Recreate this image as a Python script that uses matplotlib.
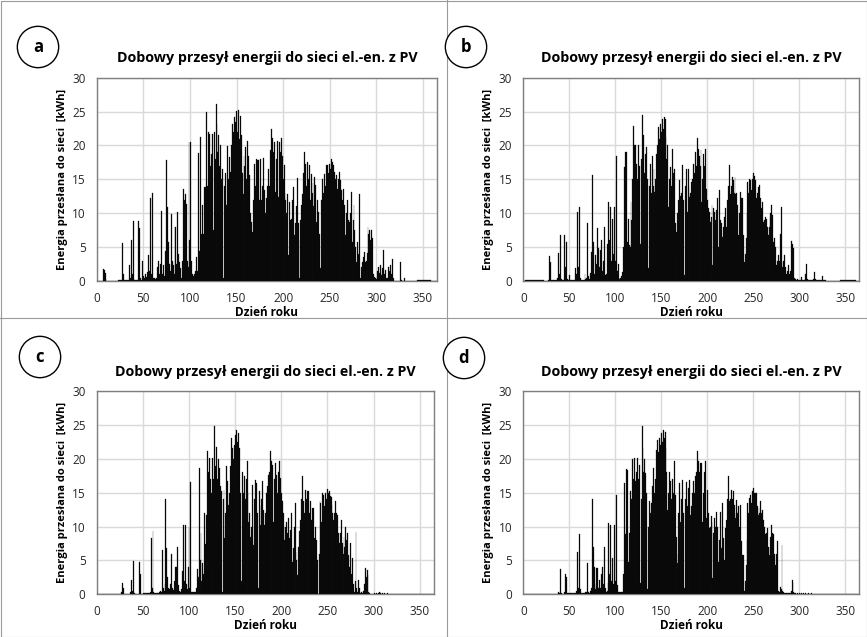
import numpy as np
import matplotlib
matplotlib.use("Agg")
import matplotlib.pyplot as plt
from matplotlib.lines import Line2D

plt.rcParams['font.family'] = ['Open Sans', 'DejaVu Sans']

# daily energy sent to grid [kWh], day 1..365
energy_a = [
    0, 0, 0, 0, 0, 0, 1.8, 1.6, 1.2, 0.3,
    0, 0, 0, 0, 0, 0, 0, 0, 0, 0,
    0, 0, 0.1, 0.1, 0.1, 0.1, 0.1, 5.6, 1.0, 0.1,
    0.1, 0.1, 0.1, 0.1, 2.4, 0.5, 6.1, 1.0, 8.9, 0.3,
    0.1, 0.1, 0.1, 0.1, 8.9, 7.8, 0.5, 0.2, 2.9, 0.8,
    0.5, 1.0, 0.6, 1.3, 0.4, 3.9, 1.5, 12.2, 1.0, 13.0,
    0.5, 0.5, 0.3, 0.4, 2.0, 2.9, 1.0, 2.5, 1.2, 10.4,
    1.0, 2.4, 0.8, 4.5, 17.8, 10.9, 5.8, 2.5, 1.5, 9.9,
    3.0, 2.4, 1.0, 8.0, 8.0, 2.5, 10.2, 4.0, 2.8, 1.9,
    0.5, 3.0, 13.6, 12.0, 12.9, 11.4, 3.0, 2.0, 20.5, 6.0,
    20.5, 3.0, 1.0, 0.8, 1.0, 1.5, 3.6, 1.5, 18.9, 4.5,
    21.2, 7.0, 11.2, 3.0, 7.0, 13.9, 13.9, 24.9, 14.0, 22.0,
    21.7, 17.0, 18.8, 21.7, 7.5, 22.0, 18.0, 26.1, 23.2, 19.0,
    21.5, 17.0, 20.1, 15.0, 16.6, 0.4, 14.0, 16.0, 11.2, 19.9,
    15.0, 18.3, 12.0, 16.1, 20.0, 23.2, 22.0, 24.2, 23.5, 25.1,
    22.0, 25.2, 21.0, 24.4, 21.5, 16.0, 12.9, 18.5, 17.0, 19.8,
    15.0, 20.6, 18.5, 15.6, 10.0, 8.7, 7.3, 12.0, 17.3, 14.0,
    18.0, 17.8, 2.4, 17.8, 12.0, 18.0, 11.9, 14.0, 18.1, 13.4,
    10.0, 12.2, 14.0, 16.6, 14.0, 19.4, 22.5, 18.0, 21.1, 19.0,
    20.5, 13.1, 18.0, 20.7, 12.4, 20.5, 19.0, 21.1, 18.5, 15.0,
    17.1, 13.0, 11.9, 10.0, 12.9, 3.8, 11.7, 9.0, 9.2, 12.0,
    13.9, 6.8, 8.5, 11.0, 15.2, 8.5, 6.0, 0.4, 9.0, 11.2,
    12.9, 16.0, 19.0, 17.3, 14.0, 17.5, 15.0, 17.1, 12.0, 15.8,
    13.0, 14.4, 11.0, 15.3, 14.1, 8.7, 12.0, 10.2, 7.0, 1.9,
    12.0, 15.1, 13.0, 15.8, 14.0, 17.1, 15.6, 17.1, 16.0, 17.3,
    16.5, 18.0, 17.5, 17.1, 16.1, 15.0, 15.6, 13.6, 15.0, 16.1,
    14.9, 12.0, 13.4, 12.0, 13.6, 11.2, 6.8, 10.0, 11.9, 9.0,
    8.7, 10.0, 13.1, 5.8, 9.0, 11.2, 7.5, 5.0, 2.8, 5.8,
    4.0, 12.9, 0.4, 2.0, 2.8, 3.5, 4.3, 2.8, 3.0, 4.1,
    8.0, 7.0, 7.5, 6.0, 7.5, 6.3, 1.0, 0.6, 0.4, 0.3,
    1.5, 2.1, 1.2, 2.4, 0.9, 1.0, 1.9, 4.6, 1.0, 1.6,
    0.4, 0.5, 2.1, 1.5, 2.4, 1.0, 3.3, 0.4, 0, 0,
    0, 0, 0, 0, 0, 2.8, 0.1, 0, 0, 0.4,
    0, 0, 0, 0, 0, 0, 0, 0, 0, 0,
    0, 0, 0, 0.1, 0.1, 0.1, 0.1, 0.1, 0.1, 0.1,
    0.1, 0.1, 0.1, 0.1, 0.1, 0.1, 0.1, 0.1, 0, 0,
    0, 0, 0, 0, 0,
]

energy_b = [
    0, 0.1, 0.1, 0.1, 0.1, 0.1, 0.1, 0.1, 0.1, 0.1,
    0.1, 0.1, 0.1, 0.1, 0.1, 0.1, 0.1, 0.1, 0.1, 0.1,
    0.1, 0.1, 0, 0, 0, 0, 0.1, 3.7, 0.3, 2.8,
    0.1, 0.1, 0.1, 0.1, 0.1, 0.1, 0.5, 4.1, 1.0, 6.8,
    0.3, 0.1, 0.1, 0.1, 6.8, 2.0, 5.8, 0.3, 0.2, 0.9,
    0.1, 0.1, 0.1, 0.1, 0.1, 0.1, 1.9, 1.0, 10.2, 2.0,
    10.9, 0.4, 0.1, 0.1, 0.1, 0.1, 1.0, 0.3, 0.5, 8.5,
    0.8, 0.3, 1.2, 4.3, 15.7, 5.8, 1.0, 3.8, 1.5, 2.5,
    7.8, 4.8, 2.0, 4.6, 6.0, 1.5, 3.0, 8.0, 0.9, 1.0,
    5.5, 2.0, 11.6, 6.0, 10.9, 3.0, 9.2, 4.0, 10.9, 3.0,
    18.4, 1.5, 2.5, 0.5, 0.3, 0.5, 0.8, 1.4, 5.0, 16.8,
    19.0, 19.0, 5.8, 9.2, 5.3, 5.0, 11.7, 9.0, 15.0, 22.9,
    20.0, 20.0, 17.3, 15.0, 20.0, 17.0, 5.5, 18.0, 24.5, 20.0,
    21.5, 16.0, 18.8, 19.8, 15.0, 1.9, 14.0, 17.2, 13.0, 18.5,
    14.0, 16.6, 13.1, 15.0, 18.8, 20.0, 22.7, 21.0, 23.2, 22.0,
    23.9, 22.5, 24.2, 23.9, 21.2, 18.0, 20.0, 10.9, 15.0, 16.8,
    14.0, 19.5, 16.0, 16.6, 8.5, 7.3, 4.6, 10.0, 12.0, 14.9,
    12.6, 13.0, 17.1, 12.0, 0.9, 14.0, 16.6, 10.2, 16.6, 14.0,
    12.4, 13.0, 14.6, 15.0, 17.3, 16.0, 19.0, 17.0, 21.1, 19.5,
    18.5, 17.0, 19.3, 11.7, 15.0, 18.8, 17.0, 19.5, 13.6, 12.0,
    10.7, 10.2, 8.7, 9.5, 11.2, 2.4, 10.7, 10.2, 9.0, 10.5,
    12.2, 5.0, 13.4, 9.0, 8.5, 6.5, 8.0, 0.5, 9.5, 10.7,
    8.0, 12.0, 14.0, 17.1, 12.9, 14.0, 15.3, 14.9, 13.0, 15.3,
    12.9, 13.0, 11.2, 6.8, 10.0, 13.1, 12.2, 12.2, 6.8, 2.8,
    4.0, 6.3, 10.0, 14.6, 13.0, 15.1, 14.9, 13.5, 15.1, 16.0,
    15.5, 14.9, 12.2, 13.0, 13.9, 12.0, 14.1, 12.2, 10.7, 11.7,
    8.7, 9.0, 9.5, 9.2, 8.0, 6.8, 8.0, 9.5, 10.0, 11.2,
    9.7, 5.8, 6.3, 5.0, 2.4, 3.0, 3.8, 3.0, 7.0, 10.9,
    2.8, 2.0, 3.0, 3.8, 2.0, 1.1, 1.5, 2.4, 1.1, 1.5,
    5.9, 5.5, 3.5, 4.8, 0.4, 0.3, 0.2, 0.3, 0.2, 0.1,
    0.1, 0.6, 0.2, 0.1, 0.1, 0.3, 1.0, 2.5, 0.3, 0.1,
    0.1, 0.2, 0.1, 0.1, 0.3, 1.4, 0.3, 0.1, 0.1, 0.1,
    0.1, 0.1, 0.1, 0.1, 0.8, 0.2, 0.1, 0.1, 0, 0,
    0, 0, 0, 0, 0, 0, 0, 0, 0, 0,
    0, 0, 0, 0, 0.1, 0.1, 0.1, 0.1, 0.1, 0.1,
    0.1, 0.1, 0.1, 0.1, 0.1, 0.1, 0.1, 0.1, 0.1, 0.1,
    0.1, 0, 0, 0, 0,
]

energy_c = [
    0, 0, 0, 0, 0, 0, 0.1, 0.1, 0.1, 0.1,
    0.1, 0.1, 0, 0, 0, 0, 0, 0, 0, 0,
    0, 0, 0, 0, 0, 0, 0.3, 1.6, 0.9, 0.1,
    0.1, 0.1, 0.1, 0.1, 0.1, 0.1, 0.3, 2.1, 0.5, 4.9,
    0.2, 0.1, 0.1, 0.1, 0.1, 4.8, 3.0, 0.2, 0.1, 0.1,
    0.2, 0.2, 0.2, 0.2, 0.2, 0.2, 0.2, 0.4, 8.3, 1.0,
    9.3, 0.3, 0.2, 0.2, 0.2, 0.2, 0.2, 0.3, 0.5, 0.4,
    6.6, 0.9, 0.5, 1.5, 14.0, 6.9, 2.5, 1.0, 0.8, 1.5,
    5.9, 1.0, 0.6, 2.0, 4.1, 4.1, 1.2, 7.0, 1.4, 0.5,
    0.3, 0.8, 3.4, 10.3, 2.0, 10.2, 1.5, 0.8, 4.0, 10.0,
    1.0, 16.5, 0.4, 0.4, 0.3, 0.4, 0.4, 1.0, 3.8, 2.5,
    18.6, 5.0, 9.0, 2.0, 4.6, 3.0, 12.0, 7.4, 11.7, 21.1,
    18.1, 20.1, 17.0, 15.0, 20.1, 3.8, 17.0, 24.8, 19.0, 21.7,
    17.0, 19.9, 18.6, 16.0, 15.2, 0.4, 14.0, 15.4, 8.3, 12.0,
    18.9, 16.7, 13.2, 15.0, 19.0, 23.1, 21.6, 20.0, 22.0, 23.5,
    21.0, 24.3, 22.5, 23.8, 21.6, 14.9, 1.9, 18.1, 15.0, 17.4,
    14.0, 17.0, 19.6, 14.9, 10.7, 12.0, 8.5, 10.0, 16.2, 7.3,
    14.0, 16.9, 16.4, 12.0, 0.9, 15.2, 13.0, 10.2, 14.0, 16.7,
    12.5, 10.2, 12.0, 14.9, 16.0, 17.6, 18.0, 21.1, 19.6, 17.0,
    19.1, 10.7, 17.0, 19.4, 17.6, 15.0, 18.0, 19.7, 17.2, 15.0,
    13.7, 12.0, 10.0, 8.0, 10.0, 10.7, 9.0, 11.2, 8.3, 9.5,
    12.0, 4.8, 6.8, 10.0, 13.4, 6.3, 5.0, 2.9, 7.0, 9.3,
    11.0, 14.0, 17.4, 13.7, 12.0, 15.4, 14.0, 15.2, 13.0, 15.2,
    12.0, 13.7, 11.0, 12.7, 12.7, 8.3, 10.0, 8.0, 5.0, 0.1,
    6.0, 13.7, 13.4, 10.7, 14.9, 14.7, 13.0, 14.9, 14.0, 15.6,
    15.0, 15.2, 14.5, 14.4, 13.2, 12.0, 11.0, 12.0, 13.7, 12.0,
    11.7, 9.0, 7.5, 9.0, 11.0, 7.5, 6.0, 8.5, 7.0, 10.0,
    8.0, 9.0, 5.8, 4.0, 7.5, 3.0, 5.3, 1.5, 0.3, 1.9,
    9.2, 1.0, 0.3, 2.1, 1.0, 0.2, 0.3, 0.2, 0.5, 1.5,
    3.9, 2.5, 3.6, 2.9, 0.4, 0.2, 0.1, 0.1, 0.1, 0.1,
    0.2, 0.1, 0.2, 0.1, 0.2, 0.3, 0.4, 0.2, 0.1, 0.2,
    0.1, 0.2, 0.1, 0.1, 0.2, 0.1, 0.1, 0.1, 0.1, 0.1,
    0.1, 0.1, 0.1, 0.1, 0.1, 0.1, 0.1, 0.1, 0.1, 0.1,
    0, 0, 0, 0, 0, 0, 0, 0, 0, 0,
    0, 0, 0, 0, 0, 0.1, 0.1, 0.1, 0.1, 0.1,
    0.1, 0.1, 0.1, 0.1, 0.1, 0.1, 0.1, 0.1, 0.1, 0.1,
    0, 0, 0, 0, 0,
]

energy_d = [
    0, 0.1, 0.1, 0.1, 0.1, 0.1, 0.1, 0.1, 0.1, 0.1,
    0.1, 0.1, 0.1, 0.1, 0.1, 0.1, 0.1, 0.1, 0.1, 0.1,
    0.1, 0.1, 0.1, 0.1, 0.1, 0.1, 0.1, 0.1, 0.1, 0.1,
    0.1, 0.1, 0.1, 0.1, 0.1, 0.1, 0.1, 0.4, 0.2, 3.7,
    0.2, 0.1, 0.1, 0.1, 0.3, 3.0, 2.5, 0.2, 0.2, 0.2,
    0.2, 0.2, 0.2, 0.2, 0.2, 0.2, 0.2, 0.5, 6.3, 1.0,
    8.9, 0.8, 0.2, 0.2, 0.2, 0.2, 0.2, 0.3, 0.4, 4.6,
    0.4, 0.2, 0.5, 1.0, 14.0, 7.0, 4.1, 0.8, 1.5, 3.9,
    3.9, 1.0, 2.1, 1.0, 3.0, 4.1, 1.5, 7.0, 1.0, 0.4,
    0.5, 1.6, 10.5, 3.0, 10.3, 2.0, 5.3, 1.5, 10.2, 2.0,
    14.6, 1.4, 0.3, 0.2, 0.3, 0.3, 0.4, 0.4, 3.0, 16.4,
    8.9, 18.5, 18.4, 4.8, 9.0, 15.2, 12.0, 14.0, 19.9, 17.0,
    20.1, 16.7, 18.0, 20.1, 17.0, 19.1, 1.6, 14.0, 24.8, 21.6,
    18.0, 19.9, 17.9, 15.0, 0.8, 10.0, 13.7, 12.0, 13.4, 16.0,
    18.6, 13.2, 15.0, 17.0, 21.3, 22.8, 21.0, 23.1, 22.0, 23.8,
    22.5, 24.3, 23.0, 24.0, 21.6, 18.1, 12.5, 15.0, 18.1, 16.7,
    14.0, 17.0, 15.0, 19.6, 14.7, 8.5, 6.0, 4.6, 12.0, 16.4,
    10.7, 14.0, 16.9, 12.0, 0.9, 14.0, 16.6, 13.0, 15.7, 14.0,
    16.9, 11.7, 13.0, 14.9, 16.7, 15.0, 17.4, 18.0, 21.1, 19.6,
    18.0, 19.4, 17.0, 19.4, 10.7, 15.0, 18.0, 19.7, 11.2, 15.4,
    12.0, 9.8, 10.0, 11.5, 10.7, 2.4, 9.0, 11.2, 10.0, 12.2,
    10.0, 4.8, 8.0, 12.2, 6.8, 13.4, 8.3, 0.8, 5.0, 9.8,
    11.0, 14.0, 17.4, 13.7, 14.0, 15.4, 14.0, 15.2, 13.2, 12.0,
    11.2, 13.9, 12.0, 13.0, 10.0, 13.2, 7.9, 5.8, 5.8, 0.5,
    2.0, 4.3, 8.0, 13.4, 12.0, 14.2, 14.7, 13.5, 15.2, 15.7,
    15.0, 14.9, 14.9, 13.0, 11.7, 12.7, 12.0, 13.7, 12.0, 12.5,
    11.0, 10.0, 8.9, 9.0, 9.8, 7.0, 5.8, 7.0, 8.5, 10.2,
    9.0, 8.9, 6.0, 4.3, 6.0, 7.9, 0.5, 0.4, 1.1, 0.8,
    7.3, 0.5, 0.3, 0.2, 0.2, 0.2, 0.2, 0.2, 0.2, 0.2,
    0.5, 2.1, 1.6, 0.4, 0.2, 0.2, 0.1, 0.2, 0.1, 0.2,
    0.1, 0.2, 0.1, 0.2, 0.1, 0.1, 0.2, 0.1, 0.1, 0.2,
    0.1, 0.1, 0.2, 0.1, 0.1, 0.1, 0.1, 0.1, 0.1, 0.1,
    0.1, 0.1, 0.1, 0.1, 0.1, 0.1, 0.1, 0.1, 0.1, 0.1,
    0, 0, 0, 0, 0, 0, 0, 0, 0, 0,
    0, 0, 0, 0, 0, 0.1, 0.1, 0.1, 0.1, 0.1,
    0.1, 0.1, 0.1, 0.1, 0.1, 0.1, 0.1, 0.1, 0.1, 0.1,
    0.1, 0.1, 0, 0, 0,
]

panel_letters = ['a', 'b', 'c', 'd']
title = 'Dobowy przesył energii do sieci el.-en. z PV'
ylabel = 'Energia przesłana do sieci  [kWh]'
xlabel = 'Dzień roku'
x_ticks = [0, 50, 100, 150, 200, 250, 300, 350]
y_ticks = [0, 5, 10, 15, 20, 25, 30]

W, H = 867, 637
fig = plt.figure(figsize=(W / 100, H / 100), dpi=100)
fig.patch.set_facecolor('white')

# axes boxes in pixels: left, top, right, bottom
boxes = [(96.7, 77.7, 437, 281), (523.3, 77.7, 859.3, 281),
         (96.7, 391, 433.5, 594.3), (523.3, 391, 859.3, 594.3)]
series = [energy_a, energy_b, energy_c, energy_d]

for (l, t, r, b), vals, letter in zip(boxes, series, panel_letters):
    ax = fig.add_axes([l / W, 1 - b / H, (r - l) / W, (b - t) / H])
    days = np.arange(1, len(vals) + 1)
    ax.bar(days, vals, width=1.0, color='black', edgecolor='#1a1a1a',
           linewidth=0.2, zorder=3)
    ax.set_xlim(0, 365)
    ax.set_ylim(0, 30)
    ax.set_xticks(x_ticks)
    ax.set_yticks(y_ticks)
    ax.grid(True, color='#d9d9d9', linewidth=1.0, zorder=0)
    ax.tick_params(length=0, labelsize=8.5, colors='#262626', pad=8)
    for s in ax.spines.values():
        s.set_color('#7f7f7f')
        s.set_linewidth(1.0)
    ax.set_title(title, fontsize=10.3, fontweight='bold', pad=11)
    ax.set_xlabel(xlabel, fontsize=8.5, fontweight='bold', labelpad=0.5)
    ax.set_ylabel(ylabel, fontsize=8, fontweight='bold', labelpad=3)

# panel letters in circles
letter_pos = [(38, 47), (466, 47), (40, 357), (464, 358)]
for (px, py), letter in zip(letter_pos, panel_letters):
    fig.text(px / W, 1 - py / H, letter, fontsize=12, fontweight='bold',
             ha='center', va='center',
             bbox=dict(boxstyle='circle,pad=0.7', fc='white', ec='black', lw=1.0))

# frame and dividers
line_kw = dict(color='#9a9a9a', linewidth=0.8, transform=fig.transFigure)
fig.add_artist(Line2D([0.5 / W, 0.5 / W, 1 - 0.5 / W, 1 - 0.5 / W, 0.5 / W],
                      [0.5 / H, 1 - 0.5 / H, 1 - 0.5 / H, 0.5 / H, 0.5 / H], **line_kw))
fig.add_artist(Line2D([447 / W, 447 / W], [0, 1], **line_kw))
fig.add_artist(Line2D([0, 1], [1 - 318 / H, 1 - 318 / H], **line_kw))

fig.savefig('out.png', dpi=100)
